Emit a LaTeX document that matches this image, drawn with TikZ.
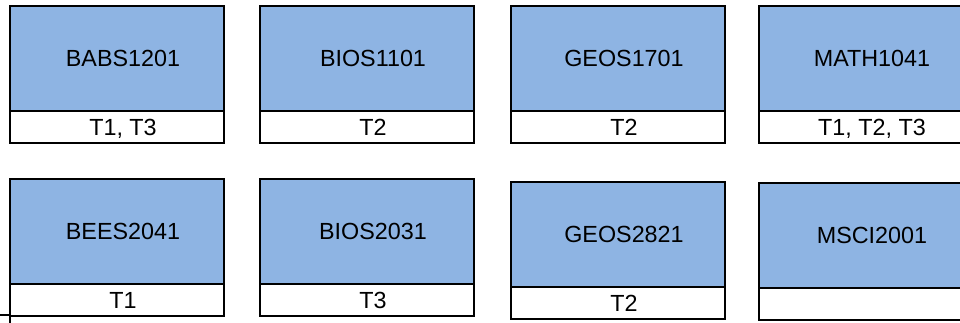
\documentclass[tikz,border=0pt]{standalone}
\usepackage{fontspec}
\setmainfont{Liberation Sans}
\usepackage{xcolor}
\usetikzlibrary{positioning}
\definecolor{courseblue}{RGB}{142,180,227}

\tikzset{
  course/.style={draw, line width=1.5pt, fill=courseblue, outer sep=0pt, inner sep=0pt,
    minimum width=160.5pt, minimum height=78.75pt, text height=12.6pt, text depth=0pt,
    font=\fontsize{17.5}{21}\selectfont, execute at begin node={\hspace*{9pt}}},
  term/.style={course, fill=white, minimum height=24pt},
}

\begin{document}
\begin{tikzpicture}[x=0.75pt,y=-0.75pt]
    \useasboundingbox (0,0) rectangle (960,322);
    \clip (0,0) rectangle (960,322);

    \node[course] (babs) at (117,58.5) {BABS1201};
    \node[term, below=0pt of babs] (babsT) {T1, T3};
    \node[course, right=27pt of babs] (bios1) {BIOS1101};
    \node[term, below=0pt of bios1] (bios1T) {T2};
    \node[course, right=27.75pt of bios1] (geos1) {GEOS1701};
    \node[term, below=0pt of geos1] (geos1T) {T2};
    \node[course, right=25.5pt of geos1] (math) {MATH1041};
    \node[term, below=0pt of math] (mathT) {T1, T2, T3};

    \node[course, below=27pt of babsT] (bees) {BEES2041};
    \node[term, below=0pt of bees] (beesT) {T1};
    \node[course, right=27pt of bees] (bios2) {BIOS2031};
    \node[term, below=0pt of bios2] (bios2T) {T3};
    \node[course, right=27.75pt of bios2, yshift=-2.25pt] (geos2) {GEOS2821};
    \node[term, below=0pt of geos2] (geos2T) {T2};
    \node[course, right=25.5pt of geos2, yshift=-0.75pt] (msci) {MSCI2001};
    \node[term, below=0pt of msci] (msciT) {};

    \draw[line width=1.5pt] (beesT.south west) -- ++(0,8)
      ([yshift=0.75pt]beesT.south west) -- ++(-12,0);
\end{tikzpicture}
\end{document}
